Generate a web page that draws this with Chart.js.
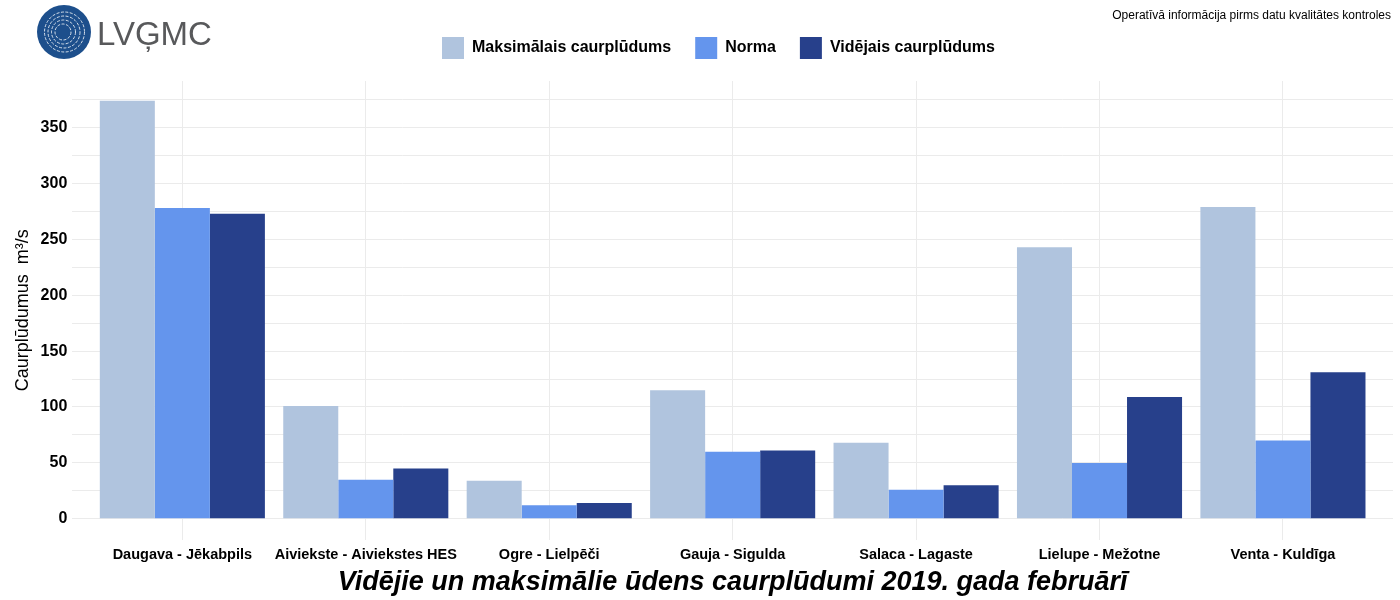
<!DOCTYPE html>
<html>
<head>
<meta charset="utf-8">
<script src="https://cdn.jsdelivr.net/npm/chart.js@4"></script>
<style>
  html, body { margin: 0; padding: 0; background: #ffffff; }
  #wrap { width: 1400px; height: 600px; }
</style>
</head>
<body>
<div id="wrap"><canvas id="flowChart" width="1400" height="600"></canvas></div>
<script>
// caurplūdumi 2019. gada februārī
const categories = [
    "Daugava - Jēkabpils",
    "Aiviekste - Aiviekstes HES",
    "Ogre - Lielpēči",
    "Gauja - Sigulda",
    "Salaca - Lagaste",
    "Lielupe - Mežotne",
    "Venta - Kuldīga"
];
const seriesNames = ["Maksimālais caurplūdums", "Norma", "Vidējais caurplūdums"];
const maxFlow = [374, 101, 34, 115, 68, 243, 279];
const normFlow = [278, 35, 12, 60, 26, 50, 70];
const avgFlow = [273, 45, 14, 61, 30, 109, 131];
const yTicks = [0, 25, 50, 75, 100, 125, 150, 175, 200, 225, 250, 275, 300, 325, 350, 375];

const colors = ["#B0C4DE", "#6495ED", "#27408B"];
const FONT = "'Liberation Sans', Arial, sans-serif";

function toPoints(values) {
    return values.map((v, i) => ({ x: i, y: v }));
}

// leģendai vairāk vietas apakšā un neliela nobīde pa labi
const legendTweak = {
    id: "legendTweak",
    beforeInit(chart) {
        const legend = chart.legend;
        const fit = legend.fit;
        legend.fit = function () {
            fit.call(this);
            this.height += 12;
        };
        const draw = legend.draw;
        legend.draw = function () {
            const c = this.ctx;
            c.save();
            c.translate(16, 0);
            draw.call(this);
            c.restore();
        };
    }
};

// logo, piezīme un virsraksts
const decorations = {
    id: "decorations",
    afterDraw(chart) {
        const ctx = chart.ctx;
        const area = chart.chartArea;
        ctx.save();

        // logo
        ctx.fillStyle = "#1d4f8c";
        ctx.beginPath();
        ctx.arc(64, 32, 27, 0, Math.PI * 2);
        ctx.fill();
        ctx.strokeStyle = "rgba(255,255,255,0.8)";
        ctx.lineWidth = 1;
        ctx.setLineDash([3, 1.5]);
        [8, 12, 16, 20].forEach((r, k) => {
            ctx.beginPath();
            ctx.arc(63 + k * 0.5, 32, r, 0, Math.PI * 2);
            ctx.stroke();
        });
        ctx.setLineDash([]);
        ctx.fillStyle = "#58595b";
        ctx.font = "33px " + FONT;
        ctx.textAlign = "left";
        ctx.textBaseline = "alphabetic";
        ctx.fillText("LVĢMC", 97, 45);

        // piezīme
        ctx.fillStyle = "#000000";
        ctx.font = "12px " + FONT;
        ctx.textAlign = "right";
        ctx.fillText("Operatīvā informācija pirms datu kvalitātes kontroles", 1391, 19);

        // virsraksts
        ctx.font = "italic bold 27px " + FONT;
        ctx.textAlign = "center";
        ctx.fillText("Vidējie un maksimālie ūdens caurplūdumi 2019. gada februārī", (area.left + area.right) / 2, 590);
        ctx.restore();
    }
};

const ctx = document.getElementById("flowChart");

new Chart(ctx, {
    type: "bar",
    data: {
        labels: categories,
        datasets: [maxFlow, normFlow, avgFlow].map((values, i) => ({
            label: seriesNames[i],
            data: toPoints(values),
            backgroundColor: colors[i],
            borderWidth: 0,
            categoryPercentage: 0.9,
            barPercentage: 1.0
        }))
    },
    options: {
        responsive: false,
        animation: false,
        layout: {
            padding: { top: 13, left: 12, right: 7, bottom: 29 }
        },
        plugins: {
            legend: {
                position: "top",
                labels: {
                    boxWidth: 22,
                    boxHeight: 22,
                    padding: 24,
                    color: "#000000",
                    font: { family: FONT, size: 16, weight: "bold" }
                }
            },
            title: { display: false },
            tooltip: { enabled: false }
        },
        scales: {
            x: {
                type: "linear",
                min: -0.6,
                max: 6.6,
                offset: false,
                afterBuildTicks: axis => {
                    axis.ticks = categories.map((c, i) => ({ value: i }));
                },
                ticks: {
                    color: "#000000",
                    font: { family: FONT, size: 14.5, weight: "bold" },
                    padding: 7,
                    maxRotation: 0,
                    autoSkip: false,
                    callback: value => categories[value] || ""
                },
                grid: { color: "#EBEBEB", lineWidth: 1, drawTicks: false, offset: false },
                border: { display: false }
            },
            y: {
                min: -18.65,
                max: 391.7,
                afterBuildTicks: axis => {
                    axis.ticks = yTicks.map(v => ({ value: v }));
                },
                ticks: {
                    color: "#000000",
                    font: { family: FONT, size: 16, weight: "bold" },
                    padding: 5,
                    callback: value => (value % 50 === 0 ? value : "")
                },
                grid: { color: "#EBEBEB", lineWidth: 1, drawTicks: false },
                border: { display: false },
                title: {
                    display: true,
                    text: "Caurplūdumus  m³/s",
                    color: "#000000",
                    font: { family: FONT, size: 18 },
                    padding: { top: 0, bottom: 2 }
                }
            }
        }
    },
    plugins: [legendTweak, decorations]
});
</script>
</body>
</html>
